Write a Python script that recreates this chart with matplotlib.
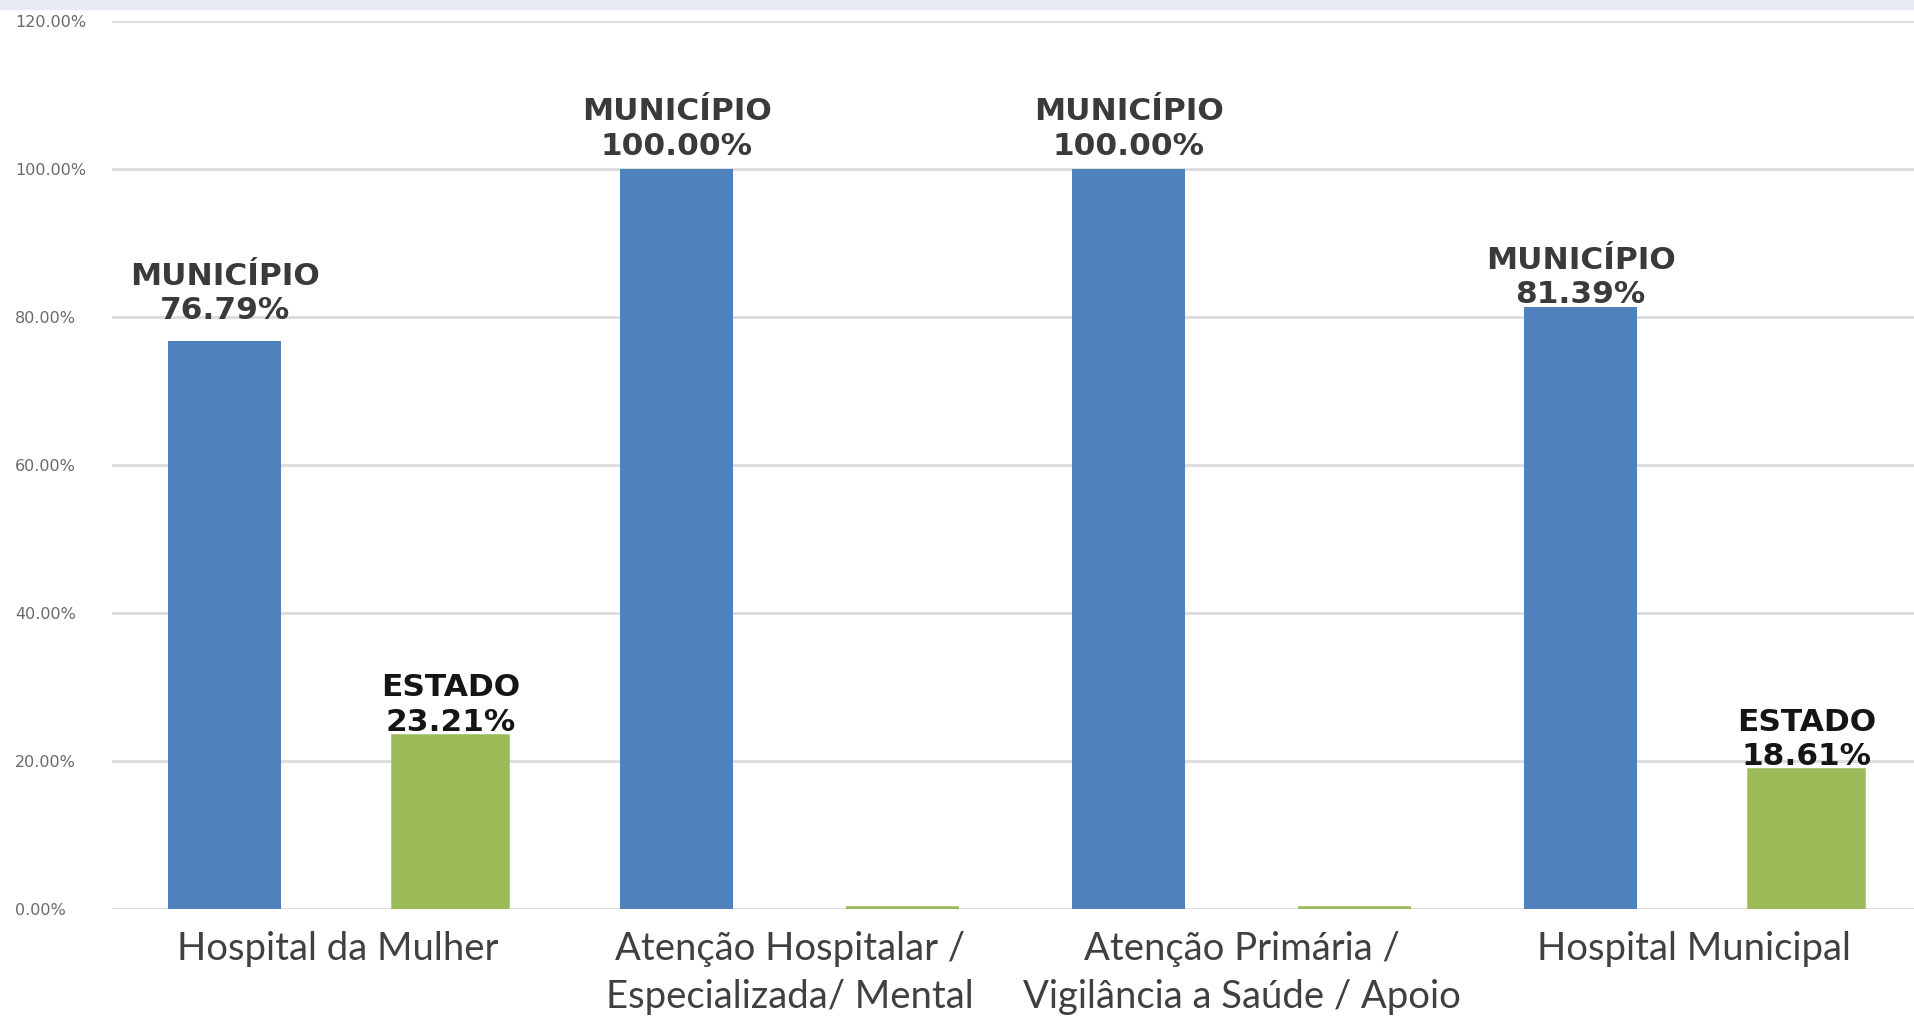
import numpy as np
import matplotlib
matplotlib.use("Agg")
import matplotlib.pyplot as plt

# ─────────────────────────────────────────────
#  Data
# ─────────────────────────────────────────────
categories = [
    "Hospital da Mulher",
    "Atenção Hospitalar /\nEspecializada/ Mental",
    "Atenção Primária /\nVigilância a Saúde / Apoio",
    "Hospital Municipal",
]
municipio = [76.79, 100.00, 100.00, 81.39]
estado    = [23.21, 0.00, 0.00, 18.61]
yticks    = [0, 20, 40, 60, 80, 100, 120]

# label lift above the blue bars (points) — hand-placed in the original
label_lift = [11, 6, 6, -2]

BLUE  = "#4F81BD"
GREEN = "#9BBB59"
GRID  = "#DCDCDC"

fig = plt.figure(figsize=(19.15, 10.32), dpi=100, facecolor="white")

# light blue strip on top of the screenshot
fig.patches.append(plt.Rectangle((0, 1 - 9 / 1032), 1, 9 / 1032,
                                 transform=fig.transFigure,
                                 color="#E6EBF4", zorder=0))

ax = fig.add_axes([112 / 1915, 123 / 1032, 1 - 112 / 1915, 888 / 1032])
x = np.arange(len(categories))
w = 0.25

bars_m = ax.bar(x - 0.25, municipio, width=w, color=BLUE, zorder=3)
bars_e = ax.bar(x + 0.25, estado, width=w, color=GREEN,
                edgecolor=GREEN, linewidth=4, zorder=3)

ax.set_xlim(-0.5, 3.49)
ax.set_ylim(0, 120)
ax.set_yticks(yticks)
ax.set_yticklabels([f"{v:.2f}%" for v in yticks], fontsize=11.5,
                   color="#6A6A6A")
for lbl in ax.get_yticklabels():
    lbl.set_horizontalalignment("left")
ax.tick_params(axis="y", length=0, pad=70)
ax.set_xticks(x)
ax.set_xticklabels(categories, fontsize=27.5, color="#404040",
                   family="Lato", linespacing=1.4)
ax.tick_params(axis="x", length=0, pad=16)

ax.grid(axis="y", color=GRID, linewidth=2, zorder=0)
for sp in ax.spines.values():
    sp.set_visible(False)

# ── data labels ──
for xi, v, lift in zip(x, municipio, label_lift):
    ax.annotate(f"MUNICÍPIO\n{v:.2f}%", (xi - 0.25, v),
                xytext=(0, lift), textcoords="offset points",
                ha="center", va="bottom", fontsize=22.5,
                fontweight="bold", color="#3A3A3A", linespacing=1.25)
for xi, v in zip(x, estado):
    if v > 0:
        ax.annotate(f"ESTADO\n{v:.2f}%", (xi + 0.25, v),
                    xytext=(0, 0), textcoords="offset points",
                    ha="center", va="bottom", fontsize=22.5,
                    fontweight="bold", color="#151515", linespacing=1.25)

plt.savefig("out.png", dpi=100, facecolor="white")
plt.close()
